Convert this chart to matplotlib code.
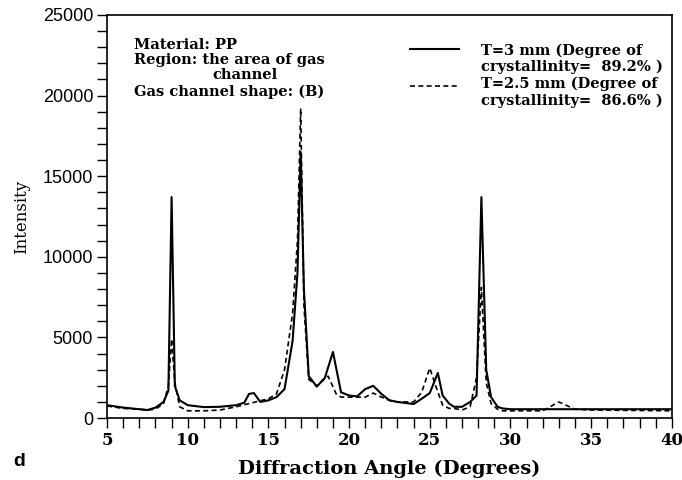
import numpy as np
import matplotlib.pyplot as plt
from matplotlib.ticker import MultipleLocator

# T=3 mm (solid)
angle_3 = [5, 6, 7, 7.5, 8, 8.5, 8.8, 9.0, 9.2, 9.5, 10, 11, 12, 13, 13.5, 13.8, 14.1,
           14.5, 15, 15.5, 16, 16.5, 16.8, 17.0, 17.2, 17.5, 18, 18.5, 19.0, 19.5, 20,
           20.5, 21, 21.5, 22, 22.5, 23, 24, 24.5, 25, 25.5, 25.8, 26.2, 26.5, 27, 27.5,
           27.9, 28.2, 28.5, 28.8, 29.2, 29.5, 30, 35, 40]
intensity_3 = [800, 650, 550, 500, 650, 1000, 1700, 13700, 2000, 1100, 800, 680, 700, 800,
               950, 1500, 1550, 1000, 1100, 1300, 1800, 4800, 9000, 16500, 8000, 2600, 1950,
               2500, 4100, 1600, 1400, 1350, 1800, 2000, 1500, 1100, 1000, 870, 1200, 1550,
               2800, 1400, 900, 700, 700, 1000, 1400, 13700, 3000, 1300, 700, 600, 550, 550, 550]

# T=2.5 mm (dashed)
angle_25 = [5, 6, 7, 7.5, 8, 8.5, 8.8, 9.0, 9.2, 9.5, 10, 11, 12, 13, 14, 15, 15.5, 16,
            16.5, 16.8, 17.0, 17.2, 17.5, 18, 18.7, 19.2, 19.5, 20, 21, 21.5, 22, 22.5,
            23, 24, 24.5, 25.0, 25.4, 25.8, 26.2, 26.5, 27, 27.5, 27.9, 28.2, 28.5, 28.8,
            29.2, 29.5, 30, 32, 33, 34, 35, 40]
intensity_25 = [750, 600, 550, 500, 550, 900, 2000, 4900, 2200, 700, 450, 450, 500, 700, 950,
                1200, 1500, 3000, 6500, 11000, 19200, 7000, 2400, 2000, 2600, 1500, 1300,
                1300, 1300, 1550, 1300, 1100, 1000, 1000, 1600, 3100, 1900, 800, 600, 600,
                500, 700, 2500, 8100, 2200, 900, 550, 450, 450, 450, 1000, 550, 500, 450]

info_lines = ["Material: PP", "Region: the area of gas", "channel", "Gas channel shape: (B)"]
legend_lines = ["T=3 mm (Degree of", "crystallinity=  89.2% )",
                "T=2.5 mm (Degree of", "crystallinity=  86.6% )"]

serif = "DejaVu Serif"
sans = "Liberation Sans"
solid_style = dict(color="black", lw=1.5, ls="-")
dash_style = dict(color="black", lw=1.2, ls=(0, (3, 2)))

fig = plt.figure(figsize=(6.82, 4.8), dpi=100)
ax = fig.add_axes([0.157, 0.129, 0.828, 0.840])

ax.plot(angle_3, intensity_3, **solid_style)
ax.plot(angle_25, intensity_25, **dash_style)

ax.set_xlim(5, 40)
ax.set_ylim(0, 25000)
ax.xaxis.set_major_locator(MultipleLocator(5))
ax.xaxis.set_minor_locator(MultipleLocator(1))
ax.yaxis.set_major_locator(MultipleLocator(5000))
ax.yaxis.set_minor_locator(MultipleLocator(1000))
ax.tick_params(which="both", direction="out", length=7, width=1, color="black")
ax.tick_params(axis="y", labelsize=13, pad=3)
ax.tick_params(axis="x", labelsize=12, pad=3)
for lab in ax.get_yticklabels():
    lab.set_fontfamily(sans)
for lab in ax.get_xticklabels():
    lab.set_fontfamily(serif)
    lab.set_fontweight("bold")
for s in ax.spines.values():
    s.set_linewidth(1.2)

ax.set_xlabel("Diffraction Angle (Degrees)", fontsize=14, fontfamily=serif,
              fontweight="bold", labelpad=8)
ax.set_ylabel("Intensity", fontsize=12, fontfamily=serif, labelpad=9)

fig.text(0.02, 0.03, "d", fontsize=14, fontfamily=sans, fontweight="bold")

# annotation block, top left
info_x = [0.047, 0.047, 0.186, 0.047]
info_y = [0.926, 0.888, 0.851, 0.809]
for txt, x, y in zip(info_lines, info_x, info_y):
    ax.text(x, y, txt, transform=ax.transAxes, fontsize=10.5, fontfamily=serif,
            fontweight="bold", va="center", ha="left")

# hand-placed legend, top right
ax.plot([0.536, 0.623], [0.916, 0.916], transform=ax.transAxes, **solid_style)
ax.plot([0.536, 0.623], [0.824, 0.824], transform=ax.transAxes, **dash_style)
for txt, y in zip(legend_lines, [0.912, 0.871, 0.829, 0.787]):
    ax.text(0.662, y, txt, transform=ax.transAxes, fontsize=10.5, fontfamily=serif,
            fontweight="bold", va="center", ha="left")

fig.savefig("out.png", dpi=100)
